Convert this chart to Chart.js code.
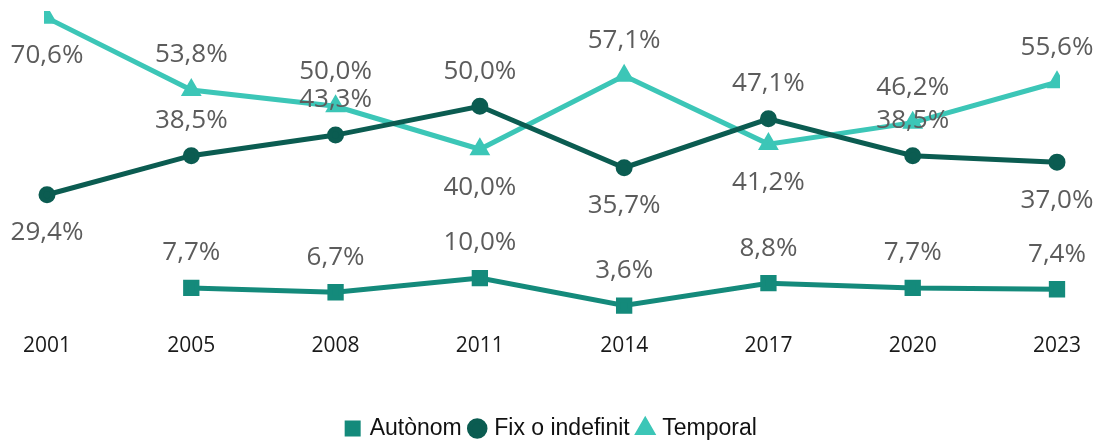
<!DOCTYPE html>
<html>
<head>
<meta charset="utf-8">
<script src="https://cdn.jsdelivr.net/npm/chart.js@4"></script>
<style>
  html, body { margin: 0; padding: 0; background: #fff; }
  #wrap { width: 1101px; height: 440px; }
</style>
</head>
<body>
<div id="wrap"><canvas id="chart"></canvas></div>
<script>
const years = ["2001", "2005", "2008", "2011", "2014", "2017", "2020", "2023"];
const autonom = [null, 7.7, 6.7, 10.0, 3.6, 8.8, 7.7, 7.4];
const fixIndefinit = [29.4, 38.5, 43.3, 50.0, 35.7, 47.1, 38.5, 37.0];
const temporal = [70.6, 53.8, 50.0, 40.0, 57.1, 41.2, 46.2, 55.6];

// where each value label sits relative to its point
const autonomLabelPos = ["top", "top", "top", "top", "top", "top", "top", "top"];
const fixLabelPos = ["bottom", "top", "top", "top", "bottom", "top", "top", "bottom"];
const temporalLabelPos = ["bottom", "top", "top", "bottom", "top", "bottom", "top", "top"];

function fmt(v) {
    return v.toFixed(1).replace(".", ",") + "%";
}

const valueLabels = {
    id: "valueLabels",
    afterDatasetsDraw(chart) {
        const ctx = chart.ctx;
        ctx.save();
        ctx.font = "26px 'Open Sans'";
        ctx.fillStyle = "#5c5c5c";
        ctx.textAlign = "center";
        ctx.textBaseline = "middle";
        chart.data.datasets.forEach((ds, i) => {
            const meta = chart.getDatasetMeta(i);
            meta.data.forEach((pt, j) => {
                const v = ds.data[j];
                if (v === null) return;
                const dy = ds.labelPos[j] === "top" ? -35 : 38;
                ctx.fillText(fmt(v), pt.x, pt.y + dy);
            });
        });
        ctx.restore();
    }
};

new Chart(document.getElementById("chart"), {
    type: "line",
    data: {
        labels: years,
        datasets: [
            {
                label: "Autònom",
                data: autonom,
                labelPos: autonomLabelPos,
                borderColor: "#148a7b",
                backgroundColor: "#148a7b",
                borderWidth: 5,
                pointStyle: "rect",
                pointRadius: 8,
                clip: 20
            },
            {
                label: "Fix o indefinit",
                data: fixIndefinit,
                labelPos: fixLabelPos,
                borderColor: "#0b5c51",
                backgroundColor: "#0b5c51",
                borderWidth: 5,
                pointStyle: "circle",
                pointRadius: 6,
                clip: 20
            },
            {
                label: "Temporal",
                data: temporal,
                labelPos: temporalLabelPos,
                borderColor: "#3cc6b7",
                backgroundColor: "#3cc6b7",
                borderWidth: 5,
                pointStyle: "triangle",
                pointRadius: 7,
                clip: 3
            }
        ]
    },
    options: {
        responsive: true,
        maintainAspectRatio: false,
        animation: false,
        layout: {
            padding: { top: 14, left: 47, right: 44, bottom: -10 }
        },
        plugins: {
            tooltip: { enabled: false },
            legend: {
                position: "bottom",
                labels: {
                    usePointStyle: true,
                    boxWidth: 11,
                    boxHeight: 11,
                    padding: 10,
                    color: "#111",
                    font: { family: "'Liberation Sans'", size: 23 }
                }
            }
        },
        scales: {
            x: {
                offset: false,
                grid: { display: false, drawTicks: false },
                border: { display: false },
                ticks: {
                    padding: 12,
                    color: "#1a1a1a",
                    font: { family: "'Open Sans'", size: 21 }
                },
                afterFit(scale) {
                    scale.height = 86;
                }
            },
            y: {
                display: false,
                min: 0,
                max: 71.5
            }
        }
    },
    plugins: [valueLabels]
});
</script>
</body>
</html>
